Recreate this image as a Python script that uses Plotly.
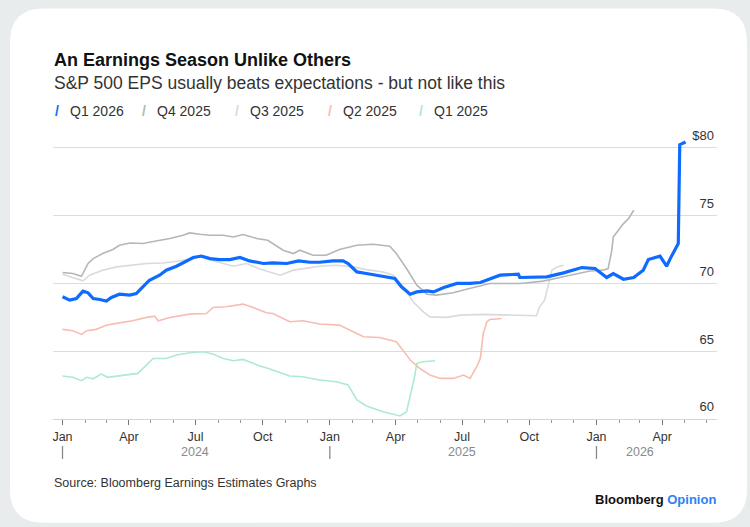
import plotly.graph_objects as go

# ---------------- data ----------------
q1_2026_dates = ["2024-01-01","2024-01-11","2024-01-20","2024-01-29","2024-02-05","2024-02-12","2024-02-21",
    "2024-03-01","2024-03-08","2024-03-19","2024-04-02","2024-04-11","2024-04-20","2024-04-29","2024-05-13",
    "2024-05-22","2024-06-05","2024-06-19","2024-06-28","2024-07-09","2024-07-21","2024-08-03","2024-08-17",
    "2024-08-31","2024-09-13","2024-10-02","2024-10-15","2024-11-03","2024-11-19","2024-12-05","2024-12-18",
    "2025-01-05","2025-01-19","2025-01-26","2025-02-07","2025-02-20","2025-03-06","2025-03-20","2025-03-31",
    "2025-04-09","2025-04-21","2025-04-30","2025-05-14","2025-05-23","2025-06-06","2025-06-24","2025-07-12",
    "2025-07-26","2025-08-22","2025-09-16","2025-09-18","2025-10-25","2025-11-17","2025-12-12","2025-12-30",
    "2026-01-15","2026-01-24","2026-02-07","2026-02-21","2026-03-06","2026-03-13","2026-03-29","2026-04-02",
    "2026-04-07","2026-04-12","2026-04-19","2026-04-23","2026-04-25","2026-05-03"]
q1_2026_vals = [69.0,68.75,68.87,69.41,69.29,68.87,68.8,
    68.68,68.95,69.19,69.12,69.24,69.73,70.22,70.59,
    70.96,71.25,71.62,71.89,72.0,71.81,71.74,71.74,
    71.89,71.64,71.45,71.49,71.45,71.64,71.54,71.54,
    71.64,71.64,71.45,70.83,70.71,70.59,70.47,70.35,
    69.73,69.19,69.36,69.43,69.36,69.68,69.98,69.98,
    70.05,70.59,70.66,70.42,70.47,70.76,71.15,71.08,
    70.42,70.71,70.29,70.42,70.96,71.74,71.99,71.69,
    71.25,71.81,72.55,72.92,80.2,80.4]

q4_2025_dates = ["2024-01-01","2024-01-15","2024-01-27","2024-02-05","2024-02-12","2024-02-25","2024-03-10",
    "2024-03-19","2024-04-02","2024-04-20","2024-05-08","2024-05-27","2024-06-14","2024-06-23","2024-07-07",
    "2024-07-21","2024-08-08","2024-08-22","2024-09-04","2024-09-23","2024-10-08","2024-10-15","2024-10-29",
    "2024-11-12","2024-11-21","2024-12-09","2024-12-27","2025-01-14","2025-02-07","2025-03-01","2025-03-24",
    "2025-04-02","2025-04-16","2025-04-30","2025-05-14","2025-05-27","2025-06-19","2025-07-07","2025-07-26",
    "2025-08-08","2025-09-18","2025-10-20","2025-11-26","2025-12-23","2026-01-10","2026-01-17","2026-01-22",
    "2026-01-24","2026-01-31","2026-02-07","2026-02-14","2026-02-18","2026-02-21"]
q4_2025_vals = [70.79,70.71,70.51,71.45,71.81,72.18,72.48,
    72.79,72.96,72.92,73.11,73.29,73.53,73.7,73.6,
    73.53,73.53,73.4,73.58,73.29,73.16,72.92,72.43,
    72.18,72.43,72.06,72.06,72.48,72.79,72.87,72.72,
    72.18,71.08,69.85,69.19,69.12,69.29,69.56,69.8,
    69.98,69.98,70.15,70.59,70.9,70.96,71.08,72.43,
    73.4,73.9,74.39,74.76,75.12,75.37]

q3_2025_dates = ["2024-01-01","2024-01-15","2024-01-29","2024-02-07","2024-02-25","2024-03-15","2024-04-02",
    "2024-04-25","2024-05-18","2024-06-05","2024-06-23","2024-07-07","2024-07-25","2024-08-08","2024-08-22",
    "2024-09-09","2024-09-27","2024-10-11","2024-10-25","2024-11-12","2024-11-30","2024-12-18","2025-01-10",
    "2025-02-02","2025-02-20","2025-03-15","2025-03-29","2025-04-11","2025-04-25","2025-05-09","2025-05-18",
    "2025-06-10","2025-06-28","2025-07-30","2025-10-11","2025-10-15","2025-10-22","2025-10-27","2025-11-01",
    "2025-11-08","2025-11-17"]
q3_2025_vals = [70.66,70.42,70.17,70.59,70.96,71.2,71.32,
    71.45,71.49,71.64,71.74,71.93,71.69,71.45,71.25,
    71.45,71.04,70.83,70.59,70.96,71.08,71.25,71.32,
    71.2,71.0,70.83,70.59,69.73,68.63,67.89,67.52,
    67.48,67.65,67.7,67.6,68.26,68.75,69.98,70.96,
    71.2,71.32]

q2_2025_dates = ["2024-01-01","2024-01-15","2024-01-27","2024-02-03","2024-02-16","2024-03-01","2024-03-19",
    "2024-04-06","2024-04-25","2024-05-06","2024-05-11","2024-05-27","2024-06-23","2024-07-16","2024-07-25",
    "2024-08-12","2024-09-04","2024-09-18","2024-10-06","2024-10-15","2024-11-07","2024-11-25","2024-12-18",
    "2025-01-14","2025-02-02","2025-02-16","2025-03-10","2025-04-02","2025-04-11","2025-04-21","2025-05-04",
    "2025-05-18","2025-06-01","2025-06-19","2025-07-03","2025-07-12","2025-07-21","2025-07-26","2025-07-30",
    "2025-08-04","2025-08-08","2025-08-24"]
q2_2025_vals = [66.6,66.5,66.23,66.5,66.6,66.91,67.08,
    67.23,67.48,67.57,67.23,67.48,67.72,67.77,68.21,
    68.26,68.46,68.21,67.82,67.77,67.16,67.23,66.99,
    66.91,66.42,66.05,66.0,65.69,65.07,64.34,63.73,
    63.24,62.99,62.99,63.24,62.99,63.85,64.46,66.3,
    67.16,67.33,67.4]

q1_2025_dates = ["2024-01-01","2024-01-15","2024-01-27","2024-02-03","2024-02-12","2024-02-23","2024-03-03",
    "2024-03-24","2024-04-13","2024-04-25","2024-05-04","2024-05-22","2024-06-05","2024-06-23","2024-07-11",
    "2024-07-25","2024-08-08","2024-08-22","2024-09-04","2024-09-18","2024-09-27","2024-10-08","2024-11-07",
    "2024-11-25","2024-12-18","2025-01-10","2025-01-26","2025-02-07","2025-02-20","2025-03-15","2025-03-29",
    "2025-04-07","2025-04-16","2025-04-23","2025-04-27","2025-04-30","2025-05-09","2025-05-25"]
q1_2025_vals = [63.16,63.07,62.82,63.07,62.96,63.31,63.07,
    63.24,63.36,63.97,64.46,64.46,64.71,64.88,64.95,
    64.78,64.46,64.29,64.39,64.1,63.9,63.73,63.16,
    63.11,62.87,62.74,62.5,61.4,60.96,60.54,60.37,
    60.22,60.54,62.13,63.11,64.1,64.21,64.29]

series_names = ["Q1 2026", "Q4 2025", "Q3 2025", "Q2 2025", "Q1 2025"]
y_tick_vals = [60, 65, 70, 75, 80]
y_tick_text = ["60", "65", "70", "75", "$80"]
year_labels = ["2024", "2025", "2026"]
year_label_dates = ["2024-07-01", "2025-07-01", "2026-03-01"]
year_start_dates = ["2024-01-01", "2025-01-01", "2026-01-01"]

title_text = "An Earnings Season Unlike Others"
subtitle_text = "S&P 500 EPS usually beats expectations - but not like this"
source_text = "Source: Bloomberg Earnings Estimates Graphs"

# ---------------- styling / layout ----------------
W, H = 750, 527
PL, PR, PB = 53, 717, 419
Y_MIN, Y_MAX = 60, 81.5
PX_PER_UNIT = 13.6
PT = PB - (Y_MAX - Y_MIN) * PX_PER_UNIT

def px(x):
    return (x - PL) / (PR - PL)

def py(y):
    return (PB - y) / (PB - PT)

colors = {"Q1 2026": "#0d6bff", "Q4 2025": "#b6b6b6", "Q3 2025": "#dadade",
          "Q2 2025": "#f8bcb2", "Q1 2025": "#aeeacf"}
widths = {"Q1 2026": 3.2, "Q4 2025": 1.6, "Q3 2025": 1.6, "Q2 2025": 1.6, "Q1 2025": 1.6}
data = {"Q1 2026": (q1_2026_dates, q1_2026_vals), "Q4 2025": (q4_2025_dates, q4_2025_vals),
        "Q3 2025": (q3_2025_dates, q3_2025_vals), "Q2 2025": (q2_2025_dates, q2_2025_vals),
        "Q1 2025": (q1_2025_dates, q1_2025_vals)}

FONT = "Liberation Sans, Arial, Helvetica, sans-serif"

fig = go.Figure()
for name in reversed(series_names):
    d, v = data[name]
    fig.add_trace(go.Scatter(x=d, y=v, mode="lines", name=name, showlegend=False,
                             line=dict(color=colors[name], width=widths[name], shape="linear")))

# card background with rounded corners
cx0, cy0, cx1, cy1, r = 10, 8, 747, 523, 34
pts = lambda x, y: f"{px(x)},{py(y)}"
card = (f"M {pts(cx0+r, cy0)} L {pts(cx1-r, cy0)} Q {pts(cx1, cy0)} {pts(cx1, cy0+r)} "
        f"L {pts(cx1, cy1-r)} Q {pts(cx1, cy1)} {pts(cx1-r, cy1)} L {pts(cx0+r, cy1)} "
        f"Q {pts(cx0, cy1)} {pts(cx0, cy1-r)} L {pts(cx0, cy0+r)} Q {pts(cx0, cy0)} {pts(cx0+r, cy0)} Z")
shapes = [dict(type="path", path=card, xref="paper", yref="paper", fillcolor="white",
               line=dict(width=0), layer="below")]
for d in year_start_dates:
    shapes.append(dict(type="line", xref="x", yref="paper", x0=d, x1=d, y0=py(446), y1=py(459),
                       line=dict(color="#8a8a8a", width=1.3)))

annotations = [
    dict(text=f"<b>{title_text}</b>", x=px(52), y=py(60), xref="paper", yref="paper",
         xanchor="left", yanchor="middle", showarrow=False, font=dict(size=18, color="#111111", family=FONT)),
    dict(text=subtitle_text, x=px(52), y=py(83), xref="paper", yref="paper",
         xanchor="left", yanchor="middle", showarrow=False, font=dict(size=17.5, color="#333333", family=FONT)),
    dict(text=source_text, x=px(52), y=py(483), xref="paper", yref="paper",
         xanchor="left", yanchor="middle", showarrow=False, font=dict(size=12.5, color="#333333", family=FONT)),
    dict(text="<b>Bloomberg</b> <b><span style='color:#2d7ff9'>Opinion</span></b>", x=px(718), y=py(500),
         xref="paper", yref="paper", xanchor="right", yanchor="middle", showarrow=False,
         font=dict(size=13, color="#111111", family=FONT)),
]
legend_slash_x = [57, 144, 237, 330, 421]
for i, name in enumerate(series_names):
    annotations.append(dict(text="<b>/</b>", x=px(legend_slash_x[i]), y=py(111), xref="paper", yref="paper",
                            xanchor="center", yanchor="middle", showarrow=False,
                            font=dict(size=14, color=colors[name], family=FONT)))
    annotations.append(dict(text=name, x=px(legend_slash_x[i] + 11), y=py(111), xref="paper", yref="paper",
                            xanchor="left", yanchor="middle", showarrow=False,
                            font=dict(size=14, color="#333333", family=FONT)))
for lab, d in zip(year_labels, year_label_dates):
    annotations.append(dict(text=lab, x=d, y=py(452), xref="x", yref="paper", xanchor="center",
                            yanchor="middle", showarrow=False,
                            font=dict(size=12.5, color="#8a8a8a", family=FONT)))

fig.update_layout(
    width=W, height=H,
    margin=dict(l=PL, r=W - PR, t=PT, b=H - PB, pad=0),
    paper_bgcolor="#e8ecec", plot_bgcolor="rgba(0,0,0,0)",
    shapes=shapes, annotations=annotations, showlegend=False,
    font=dict(family=FONT),
    xaxis=dict(type="date", range=["2023-12-19", "2026-06-15"], tick0="2024-01-01", dtick="M3",
               tickformat="%b", ticks="outside", ticklen=5, tickcolor="#777777", tickwidth=1,
               ticklabelstandoff=1,
               showgrid=False, showline=True, linecolor="#d6d6d6", linewidth=1, zeroline=False,
               tickfont=dict(size=12.5, color="#333333", family=FONT),
               minor=dict(dtick="M1", tick0="2024-01-01", ticks="outside", ticklen=3,
                          tickcolor="#999999", showgrid=False)),
    yaxis=dict(range=[Y_MIN, Y_MAX], side="right", tickvals=y_tick_vals, ticktext=y_tick_text,
               ticklabelposition="inside top", ticklabeloverflow="allow", ticks="",
               ticklabelshift=-3,
               showgrid=True, gridcolor="#dcdcdc", gridwidth=1, zeroline=False, showline=False,
               tickfont=dict(size=13, color="#333333", family=FONT)),
)

fig.write_html("out.html", config={"displayModeBar": False},
               post_script="document.body.style.margin='0';document.body.style.overflow='hidden';")
